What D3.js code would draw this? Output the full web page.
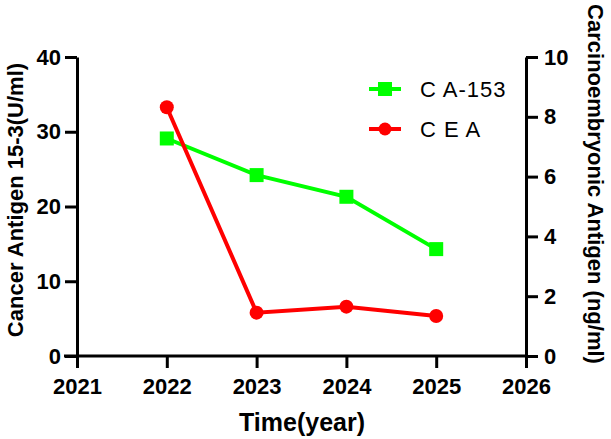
<!DOCTYPE html>
<html>
<head>
<meta charset="utf-8">
<script src="https://cdn.jsdelivr.net/npm/d3@7"></script>
<style>
  body { margin: 0; background: #fff; }
  svg { font-family: Arial, "Liberation Sans", sans-serif; }
</style>
</head>
<body>
<div id="chart"></div>
<script>
const years = [2022, 2023, 2024, 2025];
const ca153 = [29.1, 24.2, 21.3, 14.3];
const cea = [8.32, 1.45, 1.65, 1.34];
const xTicks = [2021, 2022, 2023, 2024, 2025, 2026];
const leftTicks = [0, 10, 20, 30, 40];
const rightTicks = [0, 2, 4, 6, 8, 10];

const width = 611, height = 439;
const plotLeft = 77, plotRight = 526, plotTop = 57, plotBottom = 356;

const svg = d3.select('#chart').append('svg')
    .attr('width', width)
    .attr('height', height);

const x = d3.scaleLinear().domain([2021, 2026]).range([plotLeft, plotRight]);
const yL = d3.scaleLinear().domain([0, 40]).range([plotBottom, plotTop]);
const yR = d3.scaleLinear().domain([0, 10]).range([plotBottom, plotTop]);

// axes
function styleAxis(g) {
    g.select('.domain').attr('stroke', '#000').attr('stroke-width', 3);
    g.selectAll('.tick line').attr('stroke', '#000').attr('stroke-width', 3);
    g.selectAll('.tick text')
        .attr('fill', '#000')
        .style('font-size', '22px')
        .style('font-weight', 'bold');
}

const xAxis = svg.append('g')
    .attr('transform', `translate(0,${plotBottom})`)
    .call(d3.axisBottom(x).tickValues(xTicks).tickFormat(d3.format('d')).tickSize(12).tickSizeOuter(0).tickPadding(10));
styleAxis(xAxis);
// x axis line runs a bit past the left axis
xAxis.select('.domain').attr('d', `M${plotLeft - 13},0H${plotRight}`);

const yAxisL = svg.append('g')
    .attr('transform', `translate(${plotLeft},0)`)
    .call(d3.axisLeft(yL).tickValues(leftTicks).tickSize(12).tickSizeOuter(0).tickPadding(4));
styleAxis(yAxisL);

const yAxisR = svg.append('g')
    .attr('transform', `translate(${plotRight},0)`)
    .call(d3.axisRight(yR).tickValues(rightTicks).tickSize(12).tickSizeOuter(0).tickPadding(6));
styleAxis(yAxisR);

// axis titles
svg.append('text')
    .attr('transform', `translate(23,200) rotate(-90)`)
    .attr('text-anchor', 'middle')
    .style('font-size', '22px')
    .style('font-weight', 'bold')
    .text('Cancer Antigen 15-3(U/ml)');

svg.append('text')
    .attr('transform', `translate(588,184) rotate(90)`)
    .attr('text-anchor', 'middle')
    .style('font-size', '22px')
    .style('font-weight', 'bold')
    .text('Carcinoembryonic Antigen (ng/ml)');

svg.append('text')
    .attr('x', 302)
    .attr('y', 431)
    .attr('text-anchor', 'middle')
    .style('font-size', '25px')
    .style('font-weight', 'bold')
    .text('Time(year)');

// CA-153 line (left axis)
const lineL = d3.line().x((d, i) => x(years[i])).y(d => yL(d));
svg.append('path')
    .datum(ca153)
    .attr('fill', 'none')
    .attr('stroke', '#00ff00')
    .attr('stroke-width', 4)
    .attr('d', lineL);
svg.append('g').selectAll('rect')
    .data(ca153)
    .join('rect')
    .attr('x', (d, i) => x(years[i]) - 7)
    .attr('y', d => yL(d) - 7)
    .attr('width', 14)
    .attr('height', 14)
    .attr('fill', '#00ff00');

// CEA line (right axis)
const lineR = d3.line().x((d, i) => x(years[i])).y(d => yR(d));
svg.append('path')
    .datum(cea)
    .attr('fill', 'none')
    .attr('stroke', '#ff0000')
    .attr('stroke-width', 4)
    .attr('d', lineR);
svg.append('g').selectAll('circle')
    .data(cea)
    .join('circle')
    .attr('cx', (d, i) => x(years[i]))
    .attr('cy', d => yR(d))
    .attr('r', 7)
    .attr('fill', '#ff0000');

// legend
const legend = [
    {name: 'C A-153', color: '#00ff00', shape: 'square', y: 89},
    {name: 'C E A', color: '#ff0000', shape: 'circle', y: 129}
];
const lg = svg.append('g');
legend.forEach(item => {
    lg.append('line')
        .attr('x1', 369).attr('x2', 401)
        .attr('y1', item.y).attr('y2', item.y)
        .attr('stroke', item.color)
        .attr('stroke-width', 4);
    if (item.shape === 'square') {
        lg.append('rect')
            .attr('x', 378).attr('y', item.y - 7)
            .attr('width', 14).attr('height', 14)
            .attr('fill', item.color);
    } else {
        lg.append('circle')
            .attr('cx', 385).attr('cy', item.y)
            .attr('r', 6.5)
            .attr('fill', item.color);
    }
    lg.append('text')
        .attr('x', 420)
        .attr('y', item.y + 8)
        .style('font-size', '22px')
        .style('letter-spacing', '1px')
        .text(item.name);
});
</script>
</body>
</html>
